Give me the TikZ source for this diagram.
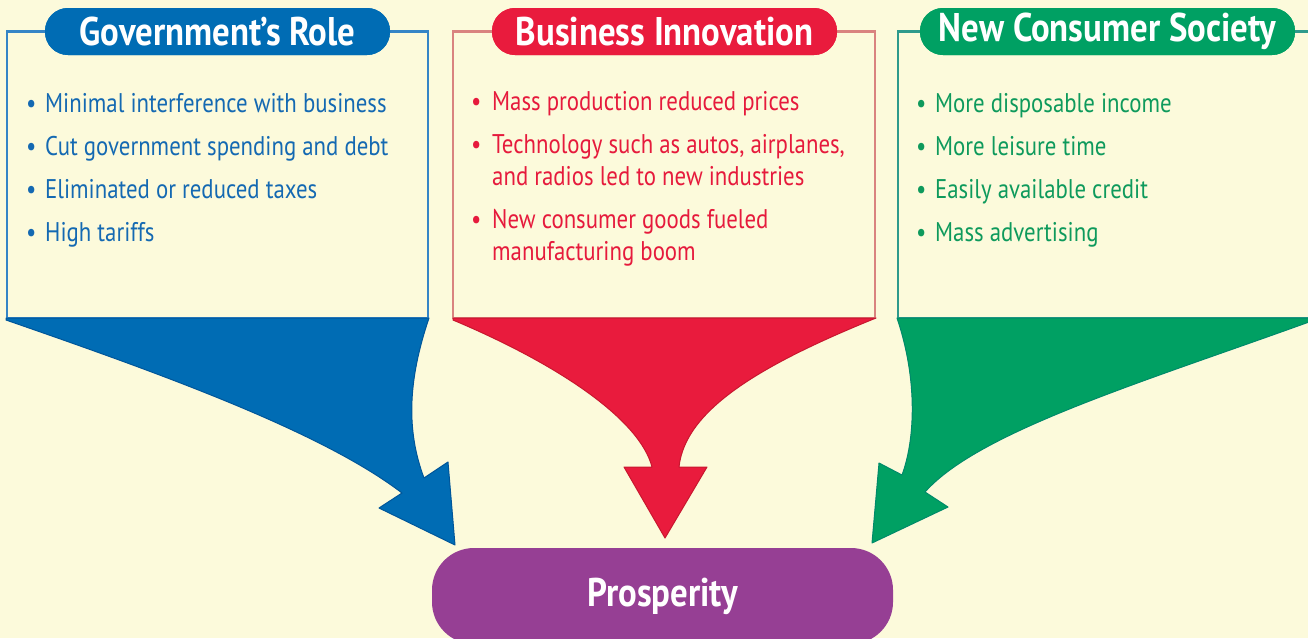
\documentclass[tikz,border=0pt]{standalone}
\usepackage{fontspec}
\setmainfont{PT Sans}
\newfontfamily\hfont{PT Sans}[FakeStretch=0.87]
\newfontfamily\ifont{PT Sans}[FakeStretch=0.845]
\definecolor{bg}{HTML}{FCFADB}
\definecolor{cblue}{HTML}{006CB4}
\definecolor{cblueD}{HTML}{00569A}
\definecolor{tblue}{HTML}{1469B2}
\definecolor{fblue}{HTML}{3585C6}
\definecolor{cred}{HTML}{E91B3D}
\definecolor{credD}{HTML}{C8172F}
\definecolor{tred}{HTML}{E61A3C}
\definecolor{fred}{HTML}{D9837F}
\definecolor{cgreen}{HTML}{00A063}
\definecolor{cgreenD}{HTML}{008A6A}
\definecolor{tgreen}{HTML}{0E9A5C}
\definecolor{fgreen}{HTML}{2E9A8C}
\definecolor{cpurple}{HTML}{963F94}
\tikzset{
  pill/.style={rounded corners=23pt, minimum height=47pt, inner sep=0pt,
    text=white, font=\hfont\bfseries\fontsize{40}{40}\selectfont},
  frame/.style={line width=2.5pt},
  item/.style={inner sep=0pt, anchor=base west,
    font=\ifont\fontsize{27}{32}\selectfont},
  arrowshape/.style={line width=1pt, line join=round},
}
\newcommand{\bul}[1]{\makebox[#1][l]{\textbullet}}
\newcommand{\twoline}[3]{\parbox[t]{400pt}{\raggedright\bul{#1}#2\\\hspace*{#1}#3}}
\begin{document}
\begin{tikzpicture}[x=1pt,y=-1pt]
\useasboundingbox (0,0) rectangle (1308,638);
\fill[bg] (0,0) rectangle (1308,638);

% header pills (named first for frames)
\node[pill, fill=cblue, minimum width=345pt] (gh) at (217.5,31.5) {Government’s Role};
\node[pill, fill=cred, minimum width=345pt] (bh) at (664.5,31.5) {Business Innovation};
\node[pill, fill=cgreen, minimum width=375pt] (nh) at (1107.5,31.5) {New Consumer Society};

% frames
\draw[frame, fblue] (gh.west) -- (7,31.5) -- (7,318) -- (428,318) -- (428,31.5) -- (gh.east);
\draw[frame, fred] (bh.west) -- (453,31.5) -- (453,318) -- (875,318) -- (875,31.5) -- (bh.east);
\draw[frame, fgreen] (nh.west) -- (898,31.5) -- (898,318) -- (1320,318);
\draw[frame, fgreen] (nh.east) -- (1320,31.5);

% redraw pills on top
\node[pill, fill=cblue, minimum width=345pt] at (gh) {Government’s Role};
\node[pill, fill=cred, minimum width=345pt] at (bh) {Business Innovation};
\node[pill, fill=cgreen, minimum width=375pt] at (nh) {New Consumer Society};

% arrows
\filldraw[arrowshape, fill=cblue, draw=cblueD]
  (6,318) -- (429,318)
  .. controls (408,380) and (406,430) .. (424,478)
  -- (448,462) -- (455,545) -- (379,508) -- (402,493)
  .. controls (320,430) and (150,370) .. (6,320) -- cycle;
\filldraw[arrowshape, fill=cred, draw=credD]
  (453,318) -- (876,318)
  .. controls (760,365) and (685,410) .. (679,467)
  -- (707,467) -- (665,538) -- (624,467) -- (652,467)
  .. controls (640,420) and (560,365) .. (453,320) -- cycle;
\filldraw[arrowshape, fill=cgreen, draw=cgreenD]
  (897,318) -- (1320,318)
  .. controls (1150,380) and (980,430) .. (925,492)
  -- (948,507) -- (872,543) -- (879,463) -- (902,475)
  .. controls (915,440) and (918,380) .. (897,318) -- cycle;

% prosperity
\node[rounded corners=42pt, fill=cpurple, minimum width=461pt, minimum height=96pt,
  inner sep=0pt, text=white, font=\hfont\bfseries\fontsize{40}{40}\selectfont]
  (pr) at (662.5,596) {Prosperity};

% government items
\begin{scope}[text=tblue]
\node[item] (g1) at (26,112) {\bul{19pt}Minimal interference with business};
\node[item] (g2) at (26,155) {\bul{19pt}Cut government spending and debt};
\node[item] (g3) at (26,198) {\bul{19pt}Eliminated or reduced taxes};
\node[item] (g4) at (26,241) {\bul{19pt}High tariffs};
\end{scope}
% business items
\begin{scope}[text=tred]
\node[item] (b1) at (471,110) {\bul{21pt}Mass production reduced prices};
\node[item] (b2) at (471,153) {\twoline{21pt}{Technology such as autos, airplanes,}{and radios led to new industries}};
\node[item] (b3) at (471,228) {\twoline{21pt}{New consumer goods fueled}{manufacturing boom}};
\end{scope}
% consumer items
\begin{scope}[text=tgreen]
\node[item] (n1) at (916,112) {\bul{19pt}More disposable income};
\node[item] (n2) at (916,155) {\bul{19pt}More leisure time};
\node[item] (n3) at (916,198) {\bul{19pt}Easily available credit};
\node[item] (n4) at (916,241) {\bul{19pt}Mass advertising};
\end{scope}
\end{tikzpicture}
\end{document}
